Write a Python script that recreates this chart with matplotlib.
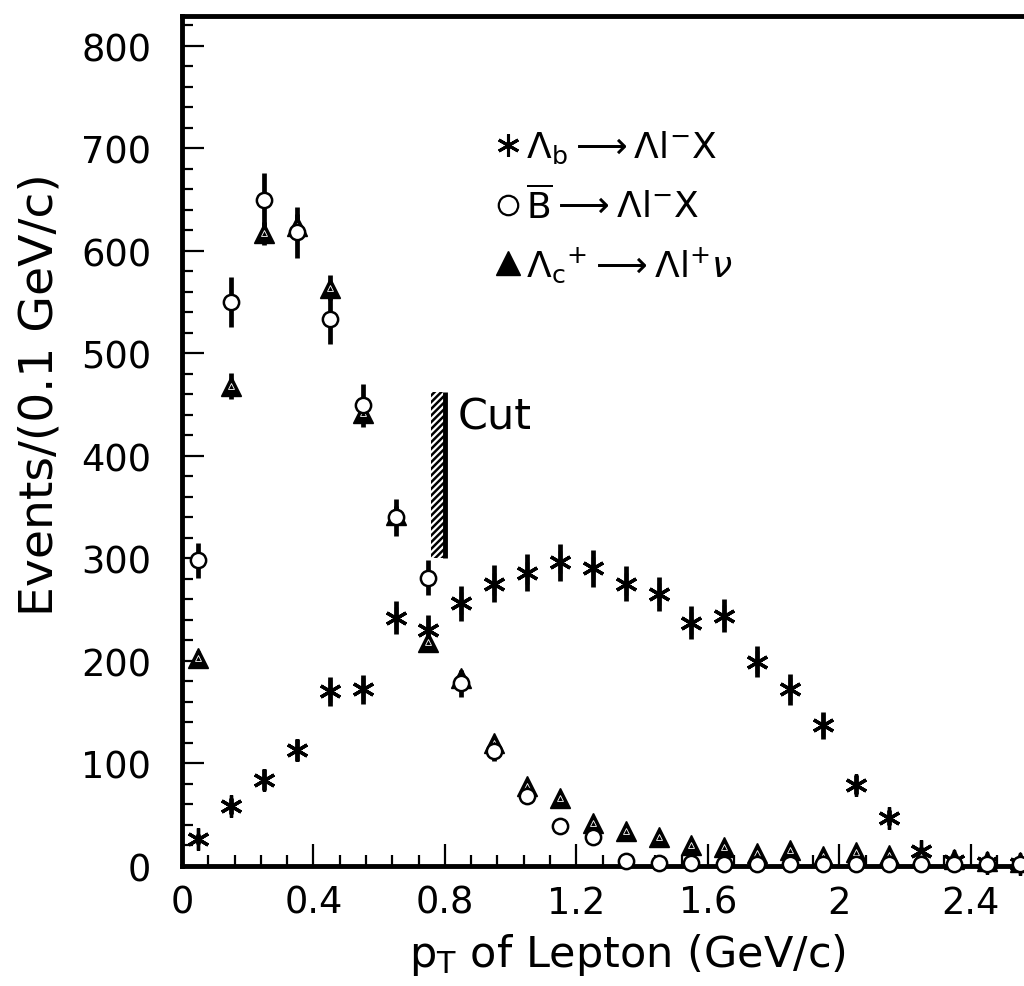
import numpy as np
import matplotlib
matplotlib.use('Agg')
import matplotlib.pyplot as plt
from matplotlib.patches import Rectangle

plt.rcParams['font.family'] = ['DejaVu Sans']
plt.rcParams['mathtext.fontset'] = 'dejavusans'
plt.rcParams['hatch.linewidth'] = 1.8

# bin centres of lepton pT (GeV/c)
pt = [0.05, 0.15, 0.25, 0.35, 0.45, 0.55, 0.65, 0.75, 0.85, 0.95, 1.05, 1.15, 1.25,
      1.35, 1.45, 1.55, 1.65, 1.75, 1.85, 1.95, 2.05, 2.15, 2.25, 2.35, 2.45, 2.55]

# Lambda_b -> Lambda l- X  (asterisks)
lamb = [26, 58, 84, 113, 170, 172, 242, 230, 256, 275, 286, 296, 290,
        275, 265, 237, 244, 199, 172, 137, 79, 47, 14, 5, 3, 2]
lamb_err = [5, 8, 10, 11, 14, 14, 16, 15, 17, 18, 18, 18, 18,
            17, 17, 16, 16, 15, 15, 13, 9, 7, 4, 2, 2, 1]

# Bbar -> Lambda l- X  (open circles)
bbar = [298, 550, 649, 618, 533, 449, 340, 281, 178, 112, 68, 39, 28,
        5, 3, 3, 2, 2, 2, 2, 2, 2, 2, 2, 2, 2]
bbar_err = [17, 24, 27, 25, 24, 21, 18, 17, 13, 10, 8, 6, 5,
            2, 2, 2, 1, 1, 1, 1, 1, 1, 1, 1, 1, 1]

# Lambda_c+ -> Lambda l+ nu  (triangles)
lamc = [203, 468, 617, 624, 564, 442, 342, 218, 183, 120, 78, 66, 42,
        34, 28, 20, 18, 12, 15, 9, 13, 10, 8, 7, 5, 4]
lamc_err = [6, 13, 11, 12, 12, 10, 9, 7, 7, 5, 4, 4, 3,
            3, 3, 2, 2, 2, 2, 2, 2, 2, 1, 1, 1, 1]

cut_pt = 0.8
cut_lo, cut_hi = 300, 462

fig = plt.figure(figsize=(10.24, 9.87), dpi=100)
ax = fig.add_axes([0.1777, 0.1219, 0.8223, 0.8609])

# error bars (no caps, thick)
for y, e in [(lamb, lamb_err), (bbar, bbar_err), (lamc, lamc_err)]:
    ax.errorbar(pt, y, yerr=e, fmt='none', ecolor='black', elinewidth=3.4, capsize=0)

# markers
ax.plot(pt, lamb, ls='none', marker=(6, 2, 0), ms=16, mew=2.4, color='black', zorder=4, clip_on=False)
ax.plot(pt, lamc, ls='none', marker='^', ms=14, mfc='black', mec='black', zorder=4, clip_on=False)
ax.plot(pt, lamc, ls='none', marker='^', ms=5, mfc='none', mec='white', mew=0.6, zorder=4, clip_on=False)
ax.plot(pt, bbar, ls='none', marker='o', ms=11, mew=1.8, mfc='white', mec='black', zorder=5, clip_on=False)

# cut marker
ax.vlines(cut_pt, cut_lo, cut_hi, color='black', lw=3.5, zorder=3)
ax.add_patch(Rectangle((cut_pt - 0.042, cut_lo), 0.042, cut_hi - cut_lo,
                       fill=False, hatch='/////', lw=0, zorder=2))
ax.text(cut_pt + 0.04, 438, 'Cut', fontsize=31, va='center', ha='left')

# legend built from marker styles
leg_star = plt.Line2D([], [], ls='none', marker=(6, 2, 0), ms=16, mew=2.2, color='black')
leg_circ = plt.Line2D([], [], ls='none', marker='o', ms=14, mew=1.6, mfc='white', mec='black')
leg_tri = plt.Line2D([], [], ls='none', marker='^', ms=17, mfc='black', mec='black')
ax.legend([leg_star, leg_circ, leg_tri],
          [r'$\mathregular{\Lambda_b \longrightarrow \Lambda l^{-}X}$',
           r'$\mathregular{\overline{B} \longrightarrow \Lambda l^{-}X}$',
           r'$\mathregular{\Lambda_c{}^{+} \longrightarrow \Lambda l^{+}}\nu$'],
          loc='upper left', bbox_to_anchor=(0.372, 0.867), frameon=False,
          fontsize=26, handlelength=0.7, handletextpad=0.15, labelspacing=0.55,
          borderpad=0, borderaxespad=0)

ax.set_xlim(0, 2.562)
ax.set_ylim(0, 829)
ax.set_xticks([0, 0.4, 0.8, 1.2, 1.6, 2.0, 2.4])
ax.set_xticklabels(['0', '0.4', '0.8', '1.2', '1.6', '2', '2.4'])
ax.set_xticks(np.arange(0, 2.56, 0.08), minor=True)
ax.set_yticks(np.arange(0, 801, 100))
ax.set_yticks(np.arange(0, 821, 20), minor=True)

ax.tick_params(which='both', direction='in', labelsize=26.5, width=1.6)
ax.tick_params(which='major', length=16)
ax.tick_params(which='minor', length=8)
ax.tick_params(axis='y', pad=22)
ax.tick_params(axis='x', pad=13)

for side in ['left', 'bottom', 'top']:
    ax.spines[side].set_linewidth(3.5)
ax.spines['right'].set_visible(False)

ax.set_ylabel('Events/(0.1 GeV/c)', fontsize=34)
ax.yaxis.set_label_coords(-0.142, 0.555)
ax.set_xlabel(r'p$_\mathregular{T}$ of Lepton (GeV/c)', fontsize=31)
ax.xaxis.set_label_coords(0.529, -0.077)

fig.savefig('out.png', dpi=100)
